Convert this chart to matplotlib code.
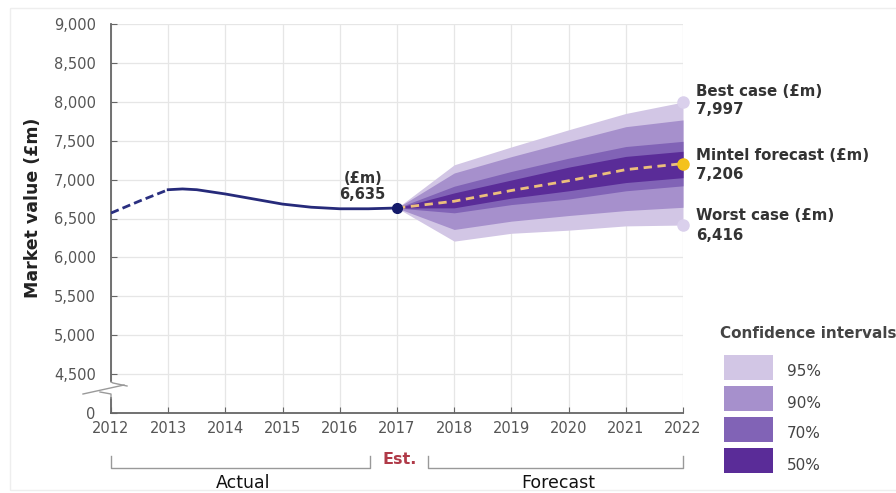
import matplotlib
matplotlib.use("Agg")
import matplotlib.pyplot as plt
from matplotlib.patches import Rectangle
from matplotlib.lines import Line2D

# ---- data ----
hist_years_dashed = [2012, 2012.5, 2013]
hist_vals_dashed = [6570, 6725, 6870]
hist_years = [2013, 2013.25, 2013.5, 2014, 2014.5, 2015, 2015.5, 2016, 2016.5, 2017]
hist_vals = [6870, 6880, 6870, 6815, 6750, 6685, 6645, 6625, 6625, 6635]

fc_years = [2017, 2018, 2019, 2020, 2021, 2022]
fc_vals = [6635, 6722, 6860, 6985, 7128, 7206]

ci_levels = ["95%", "90%", "70%", "50%"]
ci_upper = {
    "95%": [6635, 7190, 7420, 7640, 7850, 7997],
    "90%": [6635, 7085, 7295, 7490, 7680, 7767],
    "70%": [6635, 6915, 7105, 7275, 7425, 7492],
    "50%": [6635, 6829, 6995, 7160, 7298, 7364],
}
ci_lower = {
    "95%": [6635, 6209, 6310, 6350, 6405, 6416],
    "90%": [6635, 6359, 6466, 6538, 6602, 6644],
    "70%": [6635, 6573, 6679, 6750, 6856, 6920],
    "50%": [6635, 6637, 6762, 6856, 6962, 7025],
}
ci_colors = {"95%": "#d2c6e5", "90%": "#a690cc", "70%": "#8163b6", "50%": "#5a2c98"}

years_ticks = list(range(2012, 2023))
y_ticks = [4000, 4500, 5000, 5500, 6000, 6500, 7000, 7500, 8000, 8500, 9000]
y_tick_labels = ["0", "4,500", "5,000", "5,500", "6,000", "6,500", "7,000",
                 "7,500", "8,000", "8,500", "9,000"]

end_labels = [("Best case (£m)", "7,997", 7997, "#dad0ec"),
              ("Mintel forecast (£m)", "7,206", 7206, "#f4c21c"),
              ("Worst case (£m)", "6,416", 6416, "#dad0ec")]

# ---- figure ----
W, H = 896, 493
fig = plt.figure(figsize=(W / 100, H / 100), dpi=100)
plt.rcParams['font.family'] = ['DejaVu Sans']

def fx(px):
    return px / W

def fy(py):
    return 1 - py / H

ax = fig.add_axes([fx(111), fy(413), fx(683) - fx(111), fy(24) - fy(413)])
ax.set_xlim(2012, 2022)
ax.set_ylim(4000, 9000)

ax.set_xticks(years_ticks)
ax.set_xticklabels([str(y) for y in years_ticks])
ax.set_yticks(y_ticks)
ax.set_yticklabels(y_tick_labels)
ax.grid(True, color="#e6e6e6", linewidth=0.9, zorder=0)
ax.set_axisbelow(True)

for s in ["top", "right"]:
    ax.spines[s].set_visible(False)
for s in ["left", "bottom"]:
    ax.spines[s].set_color("#666666")
    ax.spines[s].set_linewidth(1.3)
ax.tick_params(axis="both", direction="in", length=4, color="#666666",
               labelcolor="#555555", labelsize=10.5)
ax.tick_params(axis="x", pad=6)
ax.tick_params(axis="y", pad=11)

# confidence bands
for lvl in ci_levels:
    ax.fill_between(fc_years, ci_lower[lvl], ci_upper[lvl], color=ci_colors[lvl],
                    linewidth=0, zorder=2)

# history
ax.plot(hist_years_dashed, hist_vals_dashed, color="#2a2f80", lw=2, ls=(0, (3, 1.5)), zorder=3)
ax.plot(hist_years, hist_vals, color="#262a7a", lw=2, zorder=3)

# forecast dashed
ax.plot(fc_years, fc_vals, color="#ecbf7c", lw=2, ls=(0, (3, 2)), zorder=4)

# markers
ax.plot([2017], [6635], "o", color="#141a6a", ms=7, zorder=5, clip_on=False)
for name, val_s, val, c in end_labels:
    ax.plot([2022], [val], "o", color=c, ms=8, zorder=5, clip_on=False)

# 2017 label
ax.text(2016.4, 6712, "(£m)\n6,635", ha="center", va="bottom", fontsize=10.5,
        fontweight="bold", color="#333333", linespacing=1.05)

# end labels
label_y = [(92, 110), (156, 174), (216, 235)]
for (name, val_s, val, c), (y1, y2) in zip(end_labels, label_y):
    fig.text(fx(696), fy(y1), name, fontsize=10.8, fontweight="bold", color="#333333",
             va="center", ha="left")
    fig.text(fx(696), fy(y2), val_s, fontsize=10.8, fontweight="bold", color="#333333",
             va="center", ha="left")

# y label
fig.text(fx(33), fy(208), "Market value (£m)", rotation=90, fontsize=12.5,
         fontweight="bold", color="#222222", ha="center", va="center")

# axis break: gap in the spine plus zigzag
fig.add_artist(Rectangle((fx(108), fy(397)), fx(115) - fx(108), fy(382) - fy(397),
                         facecolor="white", edgecolor="none", zorder=5))
fig.add_artist(Line2D([fx(83), fx(124)], [fy(394), fy(385)], color="#9a9a9a", lw=1.0, zorder=6))
fig.add_artist(Line2D([fx(111), fx(113), fx(127)], [fy(382), fy(383), fy(386)],
                      color="#9a9a9a", lw=1.0, zorder=6))
fig.add_artist(Line2D([fx(100), fx(111), fx(111)], [fy(392), fy(394), fy(398)],
                      color="#9a9a9a", lw=1.0, zorder=6))

# brackets below
br_col = "#999999"
def bracket(x0, x1):
    fig.add_artist(Line2D([fx(x0), fx(x0), fx(x1), fx(x1)],
                          [fy(456), fy(468), fy(468), fy(456)], color=br_col, lw=1.0))
bracket(111, 370)
bracket(428, 683)
fig.text(fx(400), fy(459), "Est.", fontsize=11.5, fontweight="bold", color="#b03a48",
         ha="center", va="center")
fig.text(fx(243), fy(483), "Actual", fontsize=12.5, color="#111111", ha="center", va="center")
fig.text(fx(558), fy(483), "Forecast", fontsize=12.5, color="#111111", ha="center", va="center")

# legend for confidence intervals
fig.text(fx(720), fy(333), "Confidence intervals", fontsize=11, fontweight="bold",
         color="#444444", ha="left", va="center")
leg_y = [355, 386, 417, 448]
for lvl, y0 in zip(ci_levels, leg_y):
    fig.add_artist(Rectangle((fx(724), fy(y0 + 25)), fx(773) - fx(724), fy(y0) - fy(y0 + 25),
                             facecolor=ci_colors[lvl], edgecolor="none"))
    fig.text(fx(787), fy(y0 + 17), lvl, fontsize=11, color="#444444", ha="left", va="center")

# faint frame
fig.add_artist(Rectangle((fx(10), fy(490)), fx(900) - fx(10), fy(8) - fy(490),
                         facecolor="none", edgecolor="#eeeeee", lw=1.0))

fig.savefig("out.png", dpi=100)
